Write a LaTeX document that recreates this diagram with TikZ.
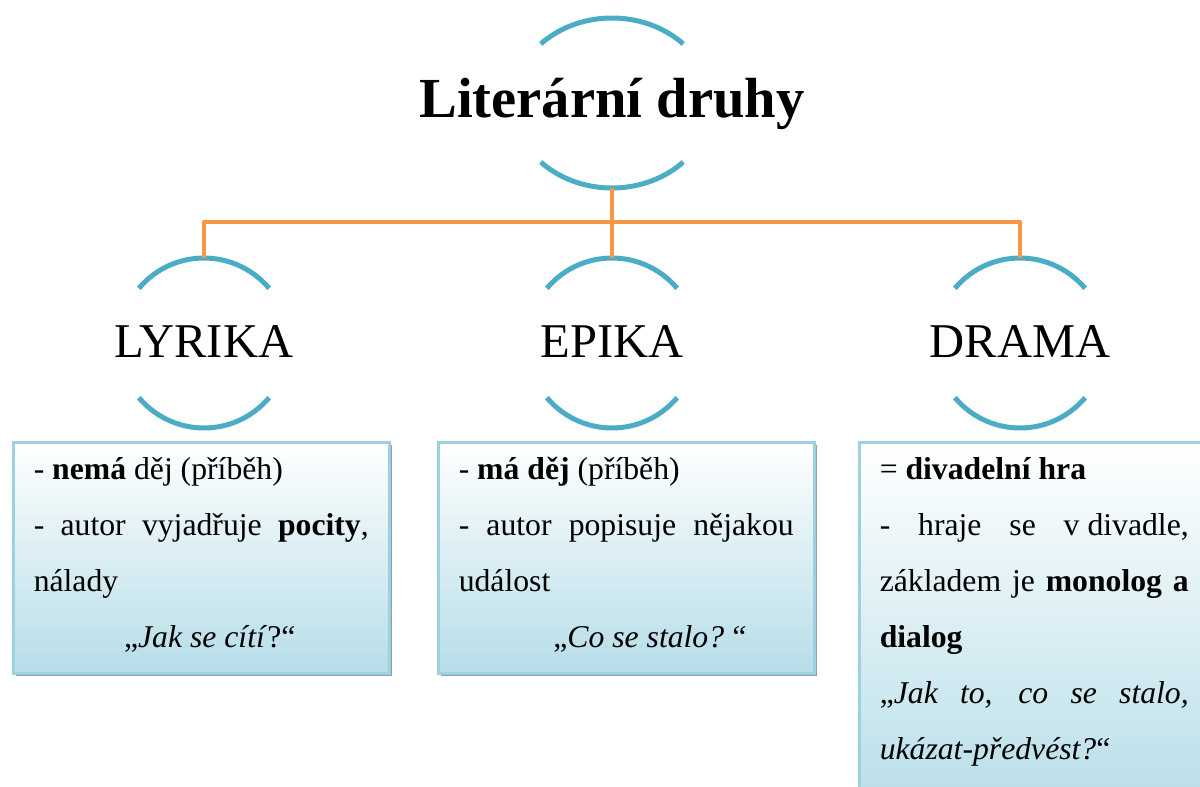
\documentclass[tikz,border=0pt]{standalone}
\usepackage{fontspec}
\setmainfont{Liberation Serif}
\usetikzlibrary{shadows}
\definecolor{oblouk}{HTML}{4BACC6}
\definecolor{spoj}{HTML}{F79646}
\definecolor{okraj}{HTML}{9DD1DF}
\definecolor{vypln}{HTML}{B6DDE8}
\definecolor{stin}{HTML}{8D9EA6}
% two arcs above and below a heading: (x,y:radius)
\def\oblouky(#1,#2:#3){\draw[obl] (#1,#2) ++(40:#3) arc (40:140:#3);
	\draw[obl] (#1,#2) ++(220:#3) arc (220:320:#3);}
\def\horni{\rule{0pt}{37pt}}
\def\dolni#1{\rule[-#1]{0pt}{#1}}

\begin{document}
\begin{tikzpicture}[x=1pt, y=1pt,
	obl/.style={oblouk, line width=5pt},
	spojka/.style={spoj, line width=4pt, line join=round},
	nadpis/.style={anchor=base, inner sep=0pt, font=\fontsize{48.5}{52}\selectfont},
	karta/.style={draw=okraj, line width=2.5pt, top color=white, bottom color=vypln,
		anchor=north west, align=justify, inner xsep=20.5pt, inner ysep=0pt,
		font=\fontsize{31.7}{56}\selectfont,
		drop shadow={shadow xshift=3pt, shadow yshift=-3pt, fill=stin, opacity=1}}]
	%%%%% frame %%%%%
	\useasboundingbox (0,0) rectangle (1200,-787);
	
	%%%%% headings %%%%%
	\node[anchor=base, inner sep=0pt, font=\fontsize{56.6}{60}\selectfont\bfseries] (druhy) at (612,-117) {Literární druhy};
	\draw[obl] (612,-103) ++(44:99 and 85) arc[start angle=44, end angle=136, x radius=99, y radius=85];
	\draw[obl] (612,-103) ++(224:99 and 85) arc[start angle=224, end angle=316, x radius=99, y radius=85];
	\coordinate (druhy-s) at (612,-188);
	
	\node[nadpis] (lyrika) at (204,-357) {LYRIKA};
	\oblouky(204,-343:85)
	\coordinate (lyrika-n) at (204,-258);
	
	\node[nadpis] (epika) at (612,-357) {EPIKA};
	\oblouky(612,-343:85)
	\coordinate (epika-n) at (612,-258);
	
	\node[nadpis] (drama) at (1020,-357) {DRAMA};
	\oblouky(1020,-343:85)
	\coordinate (drama-n) at (1020,-258);
	
	%%%%% connectors %%%%%
	\draw[spojka] (druhy-s) -- ++(0,-34) -| (lyrika-n);
	\draw[spojka] (druhy-s) -- (epika-n);
	\draw[spojka] (druhy-s) -- ++(0,-34) -| (drama-n);
	
	%%%%% boxes %%%%%
	\node[karta, text width=335pt] (lyrika-box) at (12,-441) {\horni- \textbf{nemá} děj (příběh)\par
		- autor vyjadřuje \textbf{pocity}, \linebreak nálady\par
		{\centering\hspace*{17pt}„\textit{Jak se cítí}?“\dolni{26pt}\par}};
	
	\node[karta, text width=335pt] (epika-box) at (437,-441) {\horni- \textbf{má děj} (příběh)\par
		- autor popisuje nějakou \linebreak událost\par
		{\centering\hspace*{48pt}„\textit{Co se stalo?\,“}\dolni{26pt}\par}};
	
	\node[karta, text width=309pt] (drama-box) at (858,-441) {\horni= \textbf{divadelní hra}\par
		- hraje se \mbox{v divadle}, \linebreak základem je \textbf{monolog a} \linebreak \textbf{dialog}\par
		„\textit{Jak to, co se stalo, \linebreak ukázat-předvést?}“\dolni{60pt}\par};
\end{tikzpicture}
\end{document}
